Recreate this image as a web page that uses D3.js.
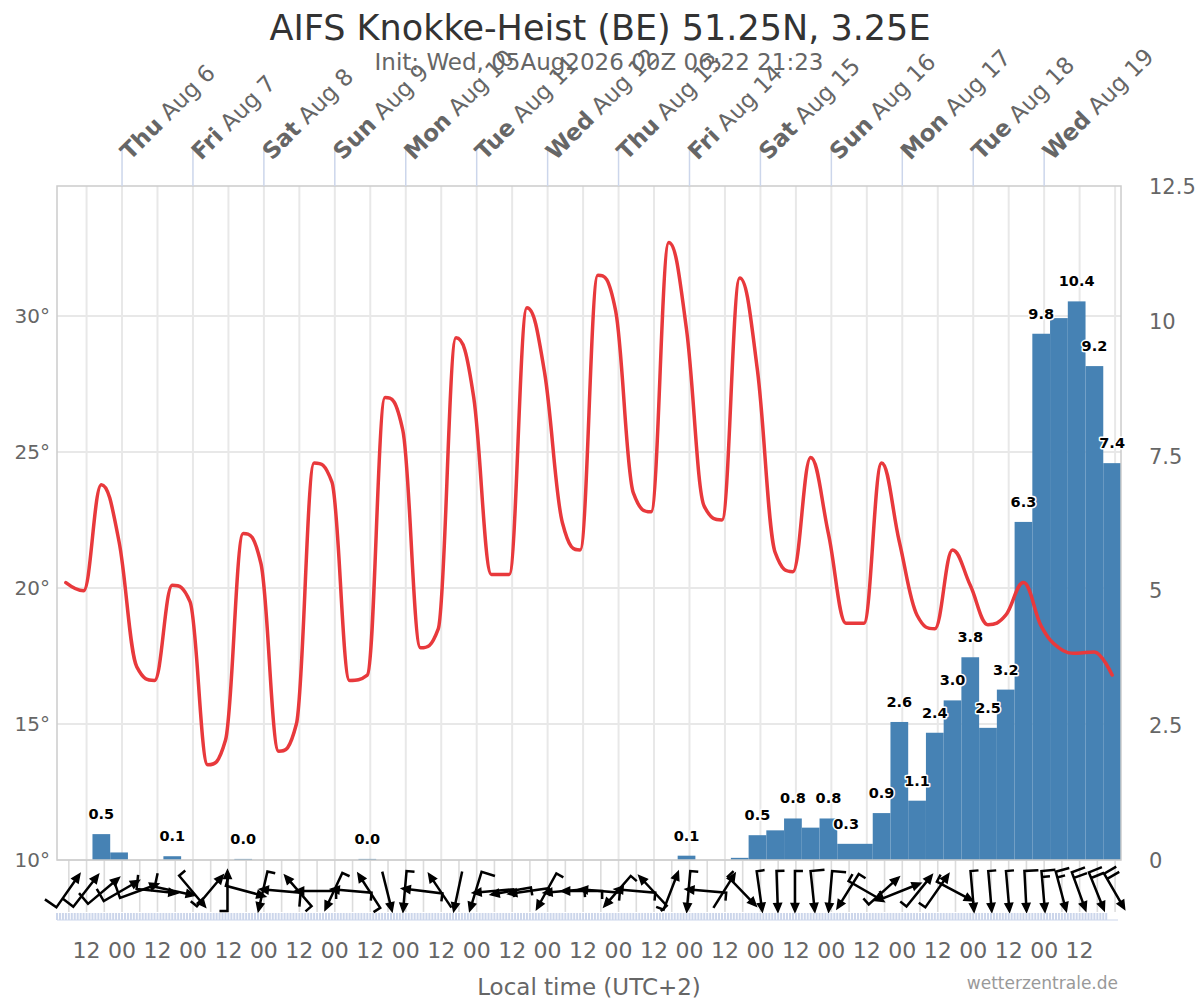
<!DOCTYPE html>
<html><head><meta charset="utf-8">
<script src="https://cdn.jsdelivr.net/npm/d3@7"></script>
<style>
html,body{margin:0;padding:0;background:#fff;}
svg{display:block;font-family:"DejaVu Sans",sans-serif;}
</style></head><body>
<svg id="chart" width="1200" height="1000"></svg>
<script>
// ---------------- DATA ----------------
const initTime = "2026-08-05T00:00:00Z";   // model init (UTC)
const localOffsetHours = 2;                  // UTC+2
const stepHours = 6;                         // 6-hourly values, plotted mid-interval
const titleText = "AIFS Knokke-Heist (BE) 51.25N, 3.25E";
const subtitleText = "Init: Wed, 05Aug2026 00Z 06:22 21:23";
const xAxisTitle = "Local time (UTC+2)";
const creditText = "wetterzentrale.de";

// 2 m temperature (°C), one value per 6 h step
const temperature = [
  20.2, 19.9, 23.8, 21.7, 17.1, 16.6, 20.1, 19.5, 13.5, 14.4,
  22.0, 20.9, 14.0, 15.0, 24.6, 23.9, 16.6, 16.8, 27.0, 25.8,
  17.8, 18.5, 29.2, 27.0, 20.5, 20.5, 30.3, 27.9, 22.4, 21.4,
  31.5, 30.2, 23.5, 22.8, 32.7, 29.5, 23.0, 22.5, 31.4, 28.0,
  21.3, 20.6, 24.8, 22.0, 18.7, 18.7, 24.6, 21.7, 19.0, 18.5,
  21.4, 20.1, 18.65, 19.0, 20.2, 18.6, 17.8, 17.6, 17.65, 16.8
];
// precipitation (mm / 6 h), null = no bar
const precipitation = [
  null, null, 0.48, 0.14, null, null, 0.07, null, null, null,
  0.02, null, null, null, null, null, null, 0.02, null, null,
  null, null, null, null, null, null, null, null, null, null,
  null, null, null, null, null, 0.08, null, null, 0.04, 0.46,
  0.55, 0.77, 0.6, 0.77, 0.3, 0.3, 0.87, 2.56, 1.1, 2.36,
  2.96, 3.76, 2.451, 3.16, 6.27, 9.76, 10.05, 10.36, 9.16, 7.36
];
// indices of precipitation bars whose value label is visible
const precipLabelIdx = [2, 6, 10, 17, 35, 39, 41, 43, 44, 46, 47, 48, 49, 50, 51, 52, 53, 54, 55, 57, 58, 59];
// wind direction (deg, from) and speed (m/s)
const windDirection = [
  215, 218, 230, 240, 250, 276, 282, 320, 220, 180,
  285, 13, 95, 139, 90, 25, 95, 147, 346, 5,
  97, 146, 12, 17, 85, 80, 82, 29, 85, 90,
  95, 41, 95, 137, 201, 5, 95, 212, 316, 352,
  358, 0, 354, 5, 32, 300, 228, 248, 219, 215,
  298, 355, 355, 355, 357, 355, 345, 340, 338, 330
];
const windSpeed = [
  6.2, 6.5, 6.5, 6.0, 6.0, 5.5, 6.0, 3.5, 3.5, 3.5,
  3.5, 3.5, 6.0, 3.5, 3.5, 3.5, 3.5, 3.5, 2.5, 3.5,
  4.0, 2.5, 2.5, 5.5, 4.0, 4.0, 4.0, 3.5, 4.0, 4.0,
  3.5, 3.5, 3.5, 3.5, 5.0, 4.0, 4.0, 2.5, 3.5, 4.0,
  4.5, 4.5, 5.5, 6.0, 4.0, 3.5, 4.0, 4.0, 4.0, 4.0,
  3.5, 4.5, 4.5, 4.5, 6.0, 8.0, 9.5, 11.0, 11.5, 11.0
];
const tempTicks = [10, 15, 20, 25, 30];
const precipTicks = [0, 2.5, 5, 7.5, 10, 12.5];
const rangeHours = 360;

// ---------------- LAYOUT ----------------
const plot = {left: 57, right: 1121, top: 186, bottom: 860};
const windY = 891, windPaneBottom = 912;
const hour = 3600e3;
const t0 = new Date(initTime);
const tEnd = new Date(+t0 + rangeHours * hour);
const toLocal = d => new Date(+d + localOffsetHours * hour);
const localHour = d => toLocal(d).getUTCHours();
const hoursFromInit = d => (d - t0) / hour;

const svg = d3.select("#chart");
const x = d3.scaleUtc().domain([t0, tEnd]).range([plot.left, plot.right]);
const yT = d3.scaleLinear().domain([10, 34.78]).range([plot.bottom, plot.top]);
const yP = d3.scaleLinear().domain([0, 12.5]).range([plot.bottom, plot.top]);
const stepTime = i => new Date(+t0 + (i * stepHours + stepHours / 2) * hour);

const allHours = d3.utcHours(t0, tEnd);
const halfDays = allHours.filter(d => localHour(d) % 12 === 0);
const labelHalfDays = halfDays.filter(d => hoursFromInit(d) < 352);
const days = allHours.filter(d => localHour(d) === 0 && hoursFromInit(d) < 352);
const sixHours = allHours.filter(d => localHour(d) % 6 === 0);

// ---------------- GRID ----------------
const g = svg.append("g");
g.selectAll("line.vg").data(halfDays).join("line")
  .attr("x1", d => x(d)).attr("x2", d => x(d))
  .attr("y1", plot.top).attr("y2", plot.bottom)
  .attr("stroke", "#e8e8e8").attr("stroke-width", 2);
g.selectAll("line.hg").data(tempTicks).join("line")
  .attr("x1", plot.left).attr("x2", plot.right)
  .attr("y1", d => yT(d)).attr("y2", d => yT(d))
  .attr("stroke", "#e8e8e8").attr("stroke-width", 2);
// wind pane grid
g.selectAll("line.wg").data(sixHours).join("line")
  .attr("x1", d => x(d)).attr("x2", d => x(d))
  .attr("y1", plot.bottom).attr("y2", windPaneBottom)
  .attr("stroke", "#dcdcdc").attr("stroke-width", 1.6);

// ---------------- BARS ----------------
const bars = precipitation.map((v, i) => ({v, i})).filter(d => d.v !== null);
const barStart = i => new Date(+t0 + i * stepHours * hour);
svg.append("g").selectAll("rect").data(bars).join("rect")
  .attr("x", d => x(barStart(d.i)))
  .attr("width", d => x(barStart(d.i + 1)) - x(barStart(d.i)))
  .attr("y", d => yP(d.v))
  .attr("height", d => yP(0) - yP(d.v))
  .attr("fill", "#4682b4");

// plot border
svg.append("rect").attr("x", plot.left).attr("y", plot.top)
  .attr("width", plot.right - plot.left).attr("height", plot.bottom - plot.top)
  .attr("fill", "none").attr("stroke", "#cccccc").attr("stroke-width", 1.5);

// ---------------- TEMPERATURE SPLINE (Highcharts-style) ----------------
function hcSpline(pts) {
  const p = d3.path();
  const smoothing = 1.5, denom = smoothing + 1;
  p.moveTo(pts[0].x, pts[0].y);
  let prevRight = null;
  for (let i = 1; i < pts.length; i++) {
    const pt = pts[i], last = pts[i - 1], next = pts[i + 1];
    let lcx = pt.x, lcy = pt.y, rc = null;
    if (next) {
      lcx = (smoothing * pt.x + last.x) / denom; lcy = (smoothing * pt.y + last.y) / denom;
      let rcx = (smoothing * pt.x + next.x) / denom, rcy = (smoothing * pt.y + next.y) / denom;
      let corr = 0;
      if (rcx !== lcx) corr = ((rcy - lcy) * (rcx - pt.x)) / (rcx - lcx) + pt.y - rcy;
      lcy += corr; rcy += corr;
      if (lcy > last.y && lcy > pt.y) { lcy = Math.max(last.y, pt.y); rcy = 2 * pt.y - lcy; }
      else if (lcy < last.y && lcy < pt.y) { lcy = Math.min(last.y, pt.y); rcy = 2 * pt.y - lcy; }
      if (rcy > next.y && rcy > pt.y) { rcy = Math.max(next.y, pt.y); lcy = 2 * pt.y - rcy; }
      else if (rcy < next.y && rcy < pt.y) { rcy = Math.min(next.y, pt.y); lcy = 2 * pt.y - rcy; }
      rc = [rcx, rcy];
    }
    const c1 = prevRight || [last.x, last.y];
    p.bezierCurveTo(c1[0], c1[1], lcx, lcy, pt.x, pt.y);
    prevRight = rc;
  }
  return p.toString();
}
const tPts = temperature.map((v, i) => ({x: x(stepTime(i)), y: yT(v)}));
svg.append("path").attr("d", hcSpline(tPts))
  .attr("fill", "none").attr("stroke", "#e8393c").attr("stroke-width", 3.5)
  .attr("stroke-linejoin", "round").attr("stroke-linecap", "round");

// ---------------- DATA LABELS ----------------
svg.append("g").selectAll("text").data(precipLabelIdx).join("text")
  .attr("x", i => x(stepTime(i)))
  .attr("y", i => yP(precipitation[i]) - 15)
  .attr("text-anchor", "middle")
  .attr("font-size", 14.5).attr("font-weight", "bold").attr("fill", "#000")
  .attr("stroke", "#fff").attr("stroke-width", 3).attr("paint-order", "stroke")
  .attr("stroke-linejoin", "round")
  .text(i => precipitation[i].toFixed(1));

// ---------------- WIND BARBS (Highcharts windbarb style) ----------------
function windShape(speed) {
  const u = 2; let knots = speed * 1.943844; let pos = -10;
  const s = [`M0,${7 * u}`, `L0,${-10 * u}`];
  let n = Math.floor(knots / 50);
  while (n-- > 0) { s.push(pos === -10 ? `L0,${pos * u}` : `M0,${pos * u}`, `L${5 * u},${pos * u + 2}`, `L0,${pos * u + 4}`); knots -= 50; pos += 7; }
  n = Math.floor(knots / 10);
  while (n-- > 0) { s.push(pos === -10 ? `L0,${pos * u}` : `M0,${pos * u}`, `L${7 * u},${pos * u}`); knots -= 10; pos += 3; }
  n = Math.floor(knots / 5);
  while (n-- > 0) { s.push(pos === -10 ? `L0,${pos * u}` : `M0,${pos * u}`, `L${4 * u},${pos * u}`); knots -= 5; pos += 3; }
  return s.join(" ");
}
const windG = svg.append("g");
const wb = windG.selectAll("g").data(windDirection.map((d, i) => ({d, s: windSpeed[i], i}))).join("g")
  .attr("transform", d => `translate(${x(stepTime(d.i)) + 2},${windY}) rotate(${d.d})`);
wb.append("path").attr("d", d => windShape(d.s))
  .attr("fill", "none").attr("stroke", "#000").attr("stroke-width", 2.5)
  .attr("stroke-linecap", "butt").attr("stroke-linejoin", "miter");
wb.append("path").attr("d", "M-3.8,12.5 L0,21 L3.8,12.5 Z")
  .attr("fill", "#000").attr("stroke", "#000").attr("stroke-width", 1.5).attr("stroke-linejoin", "miter");

// ---------------- X AXES ----------------
// bottom hourly minor ticks strip
const stripHours = allHours.filter(d => hoursFromInit(d) <= 355);
svg.append("g").selectAll("line").data(stripHours).join("line")
  .attr("x1", d => x(d)).attr("x2", d => x(d))
  .attr("y1", 913).attr("y2", 920)
  .attr("stroke", "#ccd6eb").attr("stroke-width", 2);
svg.append("line").attr("x1", plot.left).attr("x2", plot.right - 3)
  .attr("y1", 920).attr("y2", 920).attr("stroke", "#ccd6eb").attr("stroke-width", 1);

svg.append("g").selectAll("text").data(labelHalfDays).join("text")
  .attr("x", d => x(d)).attr("y", 958)
  .attr("text-anchor", "middle").attr("font-size", 22).attr("fill", "#666")
  .text(d => d3.utcFormat("%H")(toLocal(d)));

svg.append("text").attr("x", (plot.left + plot.right) / 2).attr("y", 995)
  .attr("text-anchor", "middle").attr("font-size", 23).attr("fill", "#666").text(xAxisTitle);

// top day axis
const topG = svg.append("g");
topG.selectAll("line").data(days).join("line")
  .attr("x1", d => x(d)).attr("x2", d => x(d))
  .attr("y1", 148).attr("y2", plot.top)
  .attr("stroke", "#ccd6eb").attr("stroke-width", 1.5);
const dayLab = topG.selectAll("text").data(days).join("text")
  .attr("transform", d => `translate(${x(d) + 8},${161}) rotate(-45)`)
  .attr("font-size", 23).attr("fill", "#666");
dayLab.append("tspan").attr("font-weight", "bold").text(d => d3.utcFormat("%a")(toLocal(d)));
dayLab.append("tspan").text(d => " " + d3.utcFormat("%b %-d")(toLocal(d)));

// ---------------- Y AXES ----------------
svg.append("g").selectAll("text").data(tempTicks).join("text")
  .attr("x", 50).attr("y", d => yT(d) + 7)
  .attr("text-anchor", "end").attr("font-size", 20).attr("fill", "#666")
  .text(d => d + "°");
svg.append("g").selectAll("text").data(precipTicks).join("text")
  .attr("x", 1149).attr("y", d => yP(d) + 8)
  .attr("text-anchor", "start").attr("font-size", 21).attr("fill", "#666")
  .text(d => d);

// ---------------- TITLES ----------------
svg.append("text").attr("x", 600).attr("y", 40).attr("text-anchor", "middle")
  .attr("font-size", 35).attr("fill", "#333").text(titleText);
svg.append("text").attr("x", 599).attr("y", 70).attr("text-anchor", "middle")
  .attr("font-size", 23).attr("fill", "#666").text(subtitleText);
svg.append("text").attr("x", 1118).attr("y", 989).attr("text-anchor", "end")
  .attr("font-size", 17).attr("fill", "#999").text(creditText);
</script>
</body></html>
